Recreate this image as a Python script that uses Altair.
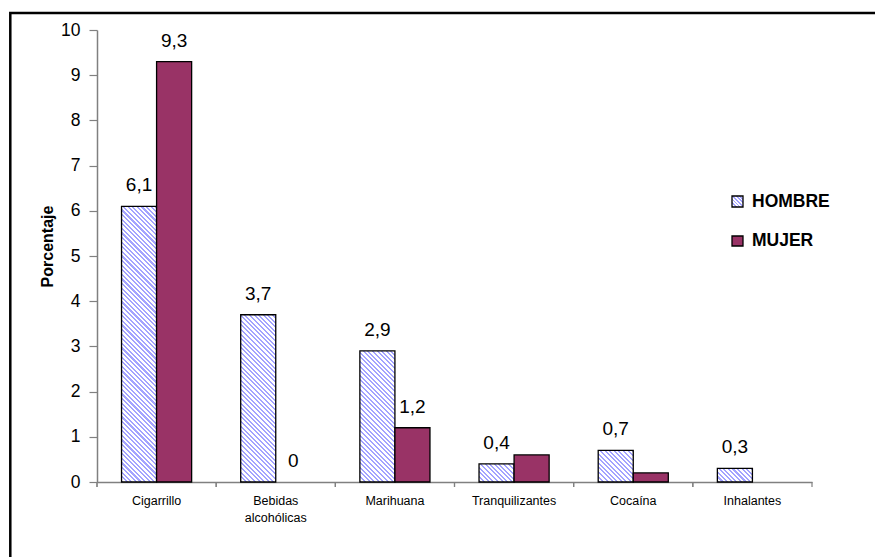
import altair as alt

# Porcentaje de consumo por sustancia y sexo
categorias = ["Cigarrillo", "Bebidas alcohólicas", "Marihuana",
              "Tranquilizantes", "Cocaína", "Inhalantes"]
series = ["HOMBRE", "MUJER"]
hombre = [6.1, 3.7, 2.9, 0.4, 0.7, 0.3]
mujer = [9.3, 0.0, 1.2, 0.6, 0.2, 0.0]
# valores que llevan etiqueta impresa sobre la barra
hombre_etiqueta = [True, True, True, True, True, True]
mujer_etiqueta = [True, True, True, False, False, False]

FONT = "Liberation Sans"
PLOT_W, PLOT_H = 715, 452
Y_MAX = 10
SUB_PAD = 0.7                                   # relleno exterior dentro de cada grupo
BAR_W = PLOT_W / len(categorias) / (2 + 2 * SUB_PAD)
AZUL = "#a3a3ff"
VINO = "#993366"
GRIS = "#808080"


def rayado(w, h, periodo=4.6):
    """Degradado lineal de franjas diagonales (\\) a 45 grados para un rectángulo w x h."""
    total = w + h
    s = total / (w * w + h * h)
    stops = []
    d = 0.0
    while d < total:
        a = round(d / total, 5)
        b = round(min(d + periodo * 0.45, total) / total, 5)
        c = round(min(d + periodo, total) / total, 5)
        stops += [{"offset": a, "color": AZUL}, {"offset": b, "color": AZUL},
                  {"offset": b, "color": "white"}, {"offset": c, "color": "white"}]
        d += periodo
    return {"gradient": "linear", "x1": 0, "y1": 1,
            "x2": round(s * w, 5), "y2": round(1 - s * h, 5), "stops": stops}


def texto(v):
    return f"{v:g}".replace(".", ",")


registros = []
for i, cat in enumerate(categorias):
    for serie, vals, etq in (("HOMBRE", hombre, hombre_etiqueta),
                             ("MUJER", mujer, mujer_etiqueta)):
        v = vals[i]
        relleno = rayado(BAR_W, v * PLOT_H / Y_MAX) if serie == "HOMBRE" else VINO
        registros.append({"categoria": cat, "serie": serie, "valor": v,
                          "relleno": relleno,
                          "etiqueta": texto(v) if etq[i] else ""})

base = alt.Chart(alt.Data(values=registros))

x_enc = alt.X(
    "categoria:N", sort=categorias,
    scale=alt.Scale(domain=categorias, paddingInner=0, paddingOuter=0),
    axis=alt.Axis(title=None, ticks=False, labelAngle=0, labelFontSize=12.5,
                  labelColor="black", labelPadding=12, labelBaseline="top",
                  labelLineHeight=17, domainColor=GRIS, domainWidth=1.5,
                  labelExpr="datum.label == 'Bebidas alcohólicas' ? ['Bebidas', 'alcohólicas'] : datum.label"),
)
xoff_enc = alt.XOffset("serie:N", sort=series,
                       scale=alt.Scale(domain=series, paddingInner=0, paddingOuter=SUB_PAD))
y_enc = alt.Y(
    "valor:Q", stack=None,
    scale=alt.Scale(domain=[0, Y_MAX], nice=False),
    axis=alt.Axis(values=list(range(0, 11)), grid=False, title="Porcentaje",
                  titleFont=FONT, titleFontSize=16, titleFontWeight="bold",
                  titleColor="black", titleX=-50, titleY=PLOT_H / 2 - 10,
                  titleAlign="center", titleBaseline="middle",
                  labelFontSize=17.5, labelColor="black", labelPadding=9,
                  tickSize=8, tickColor=GRIS, tickWidth=1.2,
                  domainColor=GRIS, domainWidth=1.5),
)

barras = base.mark_bar(stroke="black", strokeWidth=1.3).encode(
    x=x_enc, xOffset=xoff_enc, y=y_enc,
    fill=alt.Fill("relleno:N", scale=None),
).transform_filter("datum.valor > 0")

etiquetas = base.mark_text(dy=-15, fontSize=19, font=FONT, color="black",
                           baseline="alphabetic").encode(
    x=x_enc, xOffset=xoff_enc, y=y_enc, text="etiqueta:N",
)

# marcas de división entre categorías en el eje x
marcas = base.mark_rule(color=GRIS, strokeWidth=1.2).encode(
    x=alt.X("categoria:N", sort=categorias, bandPosition=0),
    y=alt.value(PLOT_H), y2=alt.value(PLOT_H + 5),
)
uno = alt.Chart(alt.Data(values=[{"k": 1}]))
marca_final = uno.mark_rule(color=GRIS, strokeWidth=1.2).encode(
    x=alt.value(PLOT_W), y=alt.value(PLOT_H), y2=alt.value(PLOT_H + 5),
)

# marco exterior del gráfico
marco = uno.mark_rect(fillOpacity=0, stroke="black", strokeWidth=2.5).encode(
    x=alt.value(-86.7), x2=alt.value(820), y=alt.value(-17), y2=alt.value(560),
)

# leyenda
ley_h_sim = uno.mark_rect(stroke="black", strokeWidth=1.3).encode(
    x=alt.value(635), x2=alt.value(646), y=alt.value(166), y2=alt.value(177),
    fill=alt.value(rayado(11, 11, 3.6)),
)
ley_m_sim = uno.mark_rect(stroke="black", strokeWidth=1.3).encode(
    x=alt.value(635), x2=alt.value(646), y=alt.value(206), y2=alt.value(216),
    fill=alt.value(VINO),
)
ley_h_txt = uno.mark_text(align="left", baseline="middle", fontSize=17.5,
                          fontWeight="bold", font=FONT, color="black").encode(
    x=alt.value(655), y=alt.value(171.5), text=alt.value("HOMBRE"),
)
ley_m_txt = uno.mark_text(align="left", baseline="middle", fontSize=17.5,
                          fontWeight="bold", font=FONT, color="black").encode(
    x=alt.value(655), y=alt.value(211), text=alt.value("MUJER"),
)

chart = alt.layer(
    marco, barras, etiquetas, marcas, marca_final,
    ley_h_sim, ley_m_sim, ley_h_txt, ley_m_txt,
).properties(
    width=PLOT_W, height=PLOT_H,
    padding={"left": 97, "top": 30, "right": 63, "bottom": 75},
    autosize=alt.AutoSizeParams(type="none"),
    background="white",
).configure(font=FONT).configure_view(strokeWidth=0)

chart.save("out.html", embed_options={"renderer": "svg", "actions": False})
